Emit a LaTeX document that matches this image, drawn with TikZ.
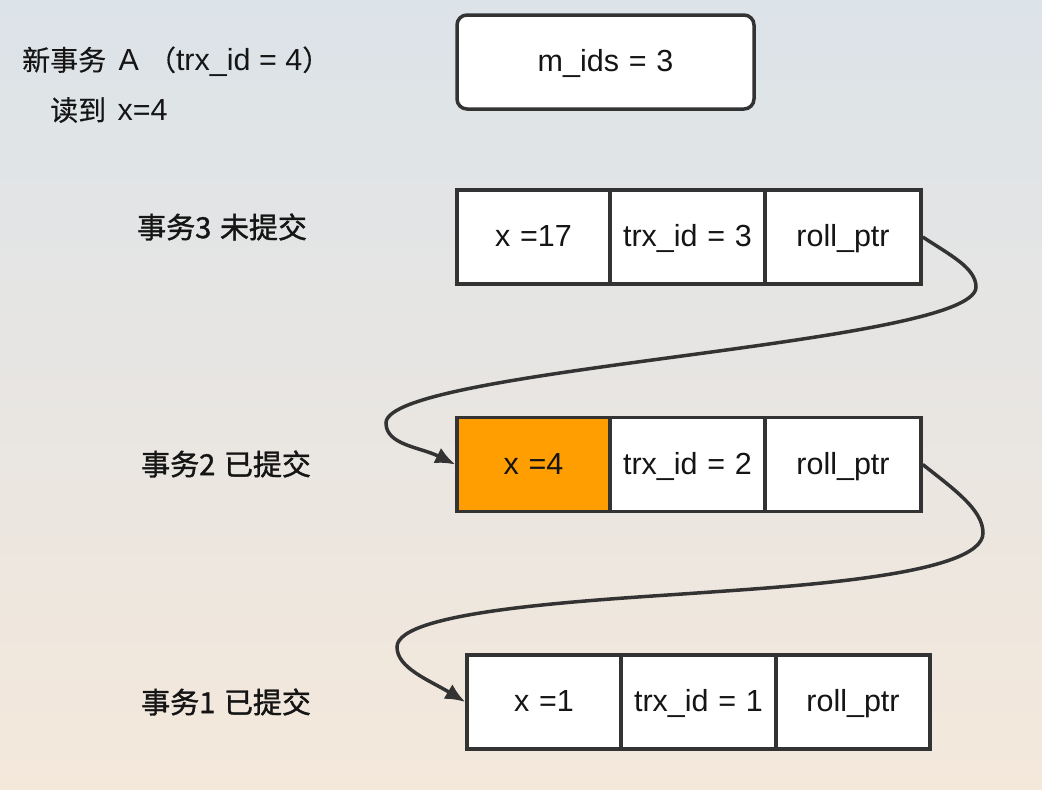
\documentclass[tikz,border=0pt]{standalone}
\usepackage{fontspec}
\setmainfont{Liberation Sans}
\newfontfamily\cjk{Noto Sans CJK SC}[FakeBold=0.35]
\newfontfamily\cjkb{Noto Sans CJK SC}[FakeBold=1.3]
\usetikzlibrary{arrows.meta}
\definecolor{bgtop}{HTML}{DCE3E9}
\definecolor{bgbot}{HTML}{F4E8DB}
\definecolor{edgec}{HTML}{333333}
\definecolor{hl}{HTML}{FF9E00}
\definecolor{ink}{HTML}{151515}
\newcommand\boxfnt{\fontsize{30.5}{34}\selectfont\spaceskip=0.32em plus 0.1em minus 0.1em\relax}
\newcommand\lblfnt{\fontsize{30.5}{34}\selectfont}
\newcommand\cjkfnt{\cjk\fontsize{28}{30}\selectfont}
\begin{document}
\begin{tikzpicture}[x=1pt,y=-1pt,
  cell/.style={draw=edgec, line width=3.5pt, fill=white, minimum height=94pt,
    inner sep=0pt, text height=24pt, text depth=5pt, text=ink, font=\boxfnt},
  mbox/.style={cell, rounded corners=10pt, minimum width=297pt},
  lbl/.style={anchor=west, inner sep=0pt, text=ink, font=\lblfnt},
  rowlbl/.style={anchor=west, inner sep=0pt, text=ink, font=\fontsize{29}{31}\selectfont\cjkb},
  link/.style={draw=edgec, line width=3.5pt, -{Latex[length=20pt,width=17pt]}}
]
\shade[top color=bgtop, bottom color=bgbot] (0,0) rectangle (1042,790);
\useasboundingbox (0,0) rectangle (1042,790);

% labels
\node[lbl] (ta) at (22,61.5) {{\cjkfnt 新事务}\hspace{4pt} A\hspace{9pt}{\cjkfnt （}trx\_id = 4{\cjkfnt ）}};
\node[lbl] (tb) at (50,110) {{\cjkfnt 读到}\hspace{3pt} x=4};
\node[rowlbl] (l3) at (137,227) {事务3\hspace{0.3em}未提交};
\node[rowlbl] (l2) at (141,464) {事务2\hspace{0.3em}已提交};
\node[rowlbl] (l1) at (141,702) {事务1\hspace{0.3em}已提交};

% m_ids
\node[mbox] (m) at (605.5,62) {m\_ids = 3};

% row 3
\node[cell, minimum width=153pt] (r3a) at (533.5,237) {x =17};
\node[cell, minimum width=155pt] (r3b) at (687.5,237) {trx\_id = 3};
\node[cell, minimum width=156pt] (r3c) at (843,237) {roll\_ptr};

% row 2
\node[cell, minimum width=153pt, fill=hl] (r2a) at (533.5,464.5) {x =4};
\node[cell, minimum width=155pt] (r2b) at (687.5,464.5) {trx\_id = 2};
\node[cell, minimum width=156pt] (r2c) at (843,464.5) {roll\_ptr};

% row 1
\node[cell, minimum width=154pt] (r1a) at (544,702) {x =1};
\node[cell, minimum width=155pt] (r1b) at (698.5,702) {trx\_id = 1};
\node[cell, minimum width=154pt] (r1c) at (853,702) {roll\_ptr};

% waypoints
\coordinate (p1) at (976,287);
\coordinate (p3) at (386,423);
\coordinate (q1) at (983,533);
\coordinate (q2) at (697,593);
\coordinate (q3) at (397,647);

\draw[link] (r3c.east) .. controls (950,255) and (976,268) .. (p1)
  .. controls (976,345) and (386,368) .. (p3)
  .. controls (386,445) and (420,447) .. (r2a.west);

\draw[link] (r2c.east) .. controls (955,490) and (983,510) .. (q1)
  .. controls (983,575) and (797,586) .. (q2)
  .. controls (597,600) and (397,610) .. (q3)
  .. controls (397,668) and (429,680) .. (r1a.west);
\end{tikzpicture}
\end{document}
